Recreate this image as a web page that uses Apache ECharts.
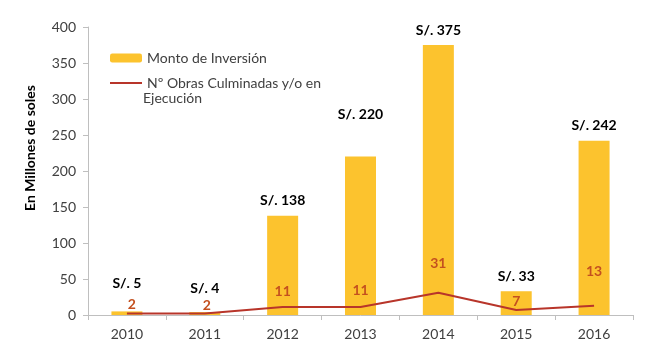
<!DOCTYPE html>
<html>
<head>
<meta charset="utf-8">
<script src="https://cdn.jsdelivr.net/npm/echarts@6/dist/echarts.min.js"></script>
<style>html,body{margin:0;padding:0;background:#fff}#c{width:660px;height:355px}</style>
</head>
<body>
<div id="c"></div>
<script>
const categories = ['2010','2011','2012','2013','2014','2015','2016'];
const inversion = [5, 4, 138, 220, 375, 33, 242];
const obras = [2, 2, 11, 11, 31, 7, 13];
const yTicks = [0, 50, 100, 150, 200, 250, 300, 350, 400];
const barName = 'Monto de Inversión';
const lineName = 'Nº Obras Culminadas y/o en Ejecución';

const FONT = 'Lato, "Open Sans", sans-serif';
const barGap = [21, 17, 8, 35, 8, 8, 8];
const lineGap = [1, 0, 8, 9, 21, 0, 26];
const lineDx = [5, 2, 0, 0, 0, 0, 0];

const chart = echarts.init(document.getElementById('c'));
chart.setOption({
  animation: false,
  textStyle: { fontFamily: FONT },
  grid: { left: 88, right: 27, top: 27, bottom: 40 },
  legend: {
    orient: 'vertical',
    left: 105, top: 46,
    itemWidth: 32, itemHeight: 9, itemGap: 11,
    textStyle: { fontSize: 14, color: '#404040', fontFamily: FONT },
    formatter: n => n === lineName ? 'Nº Obras Culminadas y/o en' : n,
    data: [
      { name: barName },
      { name: lineName, icon: 'path://M0,0H32V2H0Z', itemStyle: { color: '#B8352A', opacity: 1 } }
    ]
  },
  graphic: [{
    type: 'text', left: 143, top: 91,
    style: { text: 'Ejecución', fontSize: 14, fill: '#404040', fontFamily: FONT }
  }, {
    type: 'text', x: 30, y: 148, rotation: Math.PI / 2,
    style: { text: 'En Millones de soles', fontSize: 14, fontWeight: 'bold', fill: '#000',
             fontFamily: FONT, align: 'center', verticalAlign: 'middle' }
  }],
  xAxis: {
    type: 'category', data: categories,
    axisLine: { lineStyle: { color: '#bfbfbf' } },
    axisTick: { show: true, alignWithLabel: false, length: 5, lineStyle: { color: '#bfbfbf' } },
    axisLabel: { fontSize: 14, color: '#404040', margin: 12, fontFamily: FONT }
  },
  yAxis: {
    type: 'value', min: yTicks[0], max: yTicks[yTicks.length - 1], interval: yTicks[1] - yTicks[0],
    axisLine: { show: true, lineStyle: { color: '#bfbfbf' } },
    axisTick: { show: true, length: 5, lineStyle: { color: '#bfbfbf' } },
    splitLine: { show: false },
    axisLabel: { fontSize: 14, color: '#404040', margin: 12, fontFamily: FONT }
  },
  series: [
    {
      name: barName, type: 'bar', barWidth: 31,
      itemStyle: { color: '#FCC32E' },
      data: inversion.map((v, i) => ({
        value: v,
        label: { show: true, position: 'top', distance: barGap[i], formatter: 'S/. {c}',
                 fontSize: 14, fontWeight: 'bold', color: '#000', fontFamily: FONT }
      }))
    },
    {
      name: lineName, type: 'line', symbol: 'circle', symbolSize: 2, showSymbol: true,
      lineStyle: { color: '#B8352A', width: 2 },
      itemStyle: { color: 'rgba(0,0,0,0)' },
      label: { show: true },
      data: obras.map((v, i) => ({
        value: v,
        label: { show: true, position: 'top', distance: lineGap[i], offset: [lineDx[i], 0],
                 fontSize: 14, fontWeight: 'bold', color: '#C4501F', fontFamily: FONT }
      }))
    }
  ]
});
</script>
</body>
</html>
